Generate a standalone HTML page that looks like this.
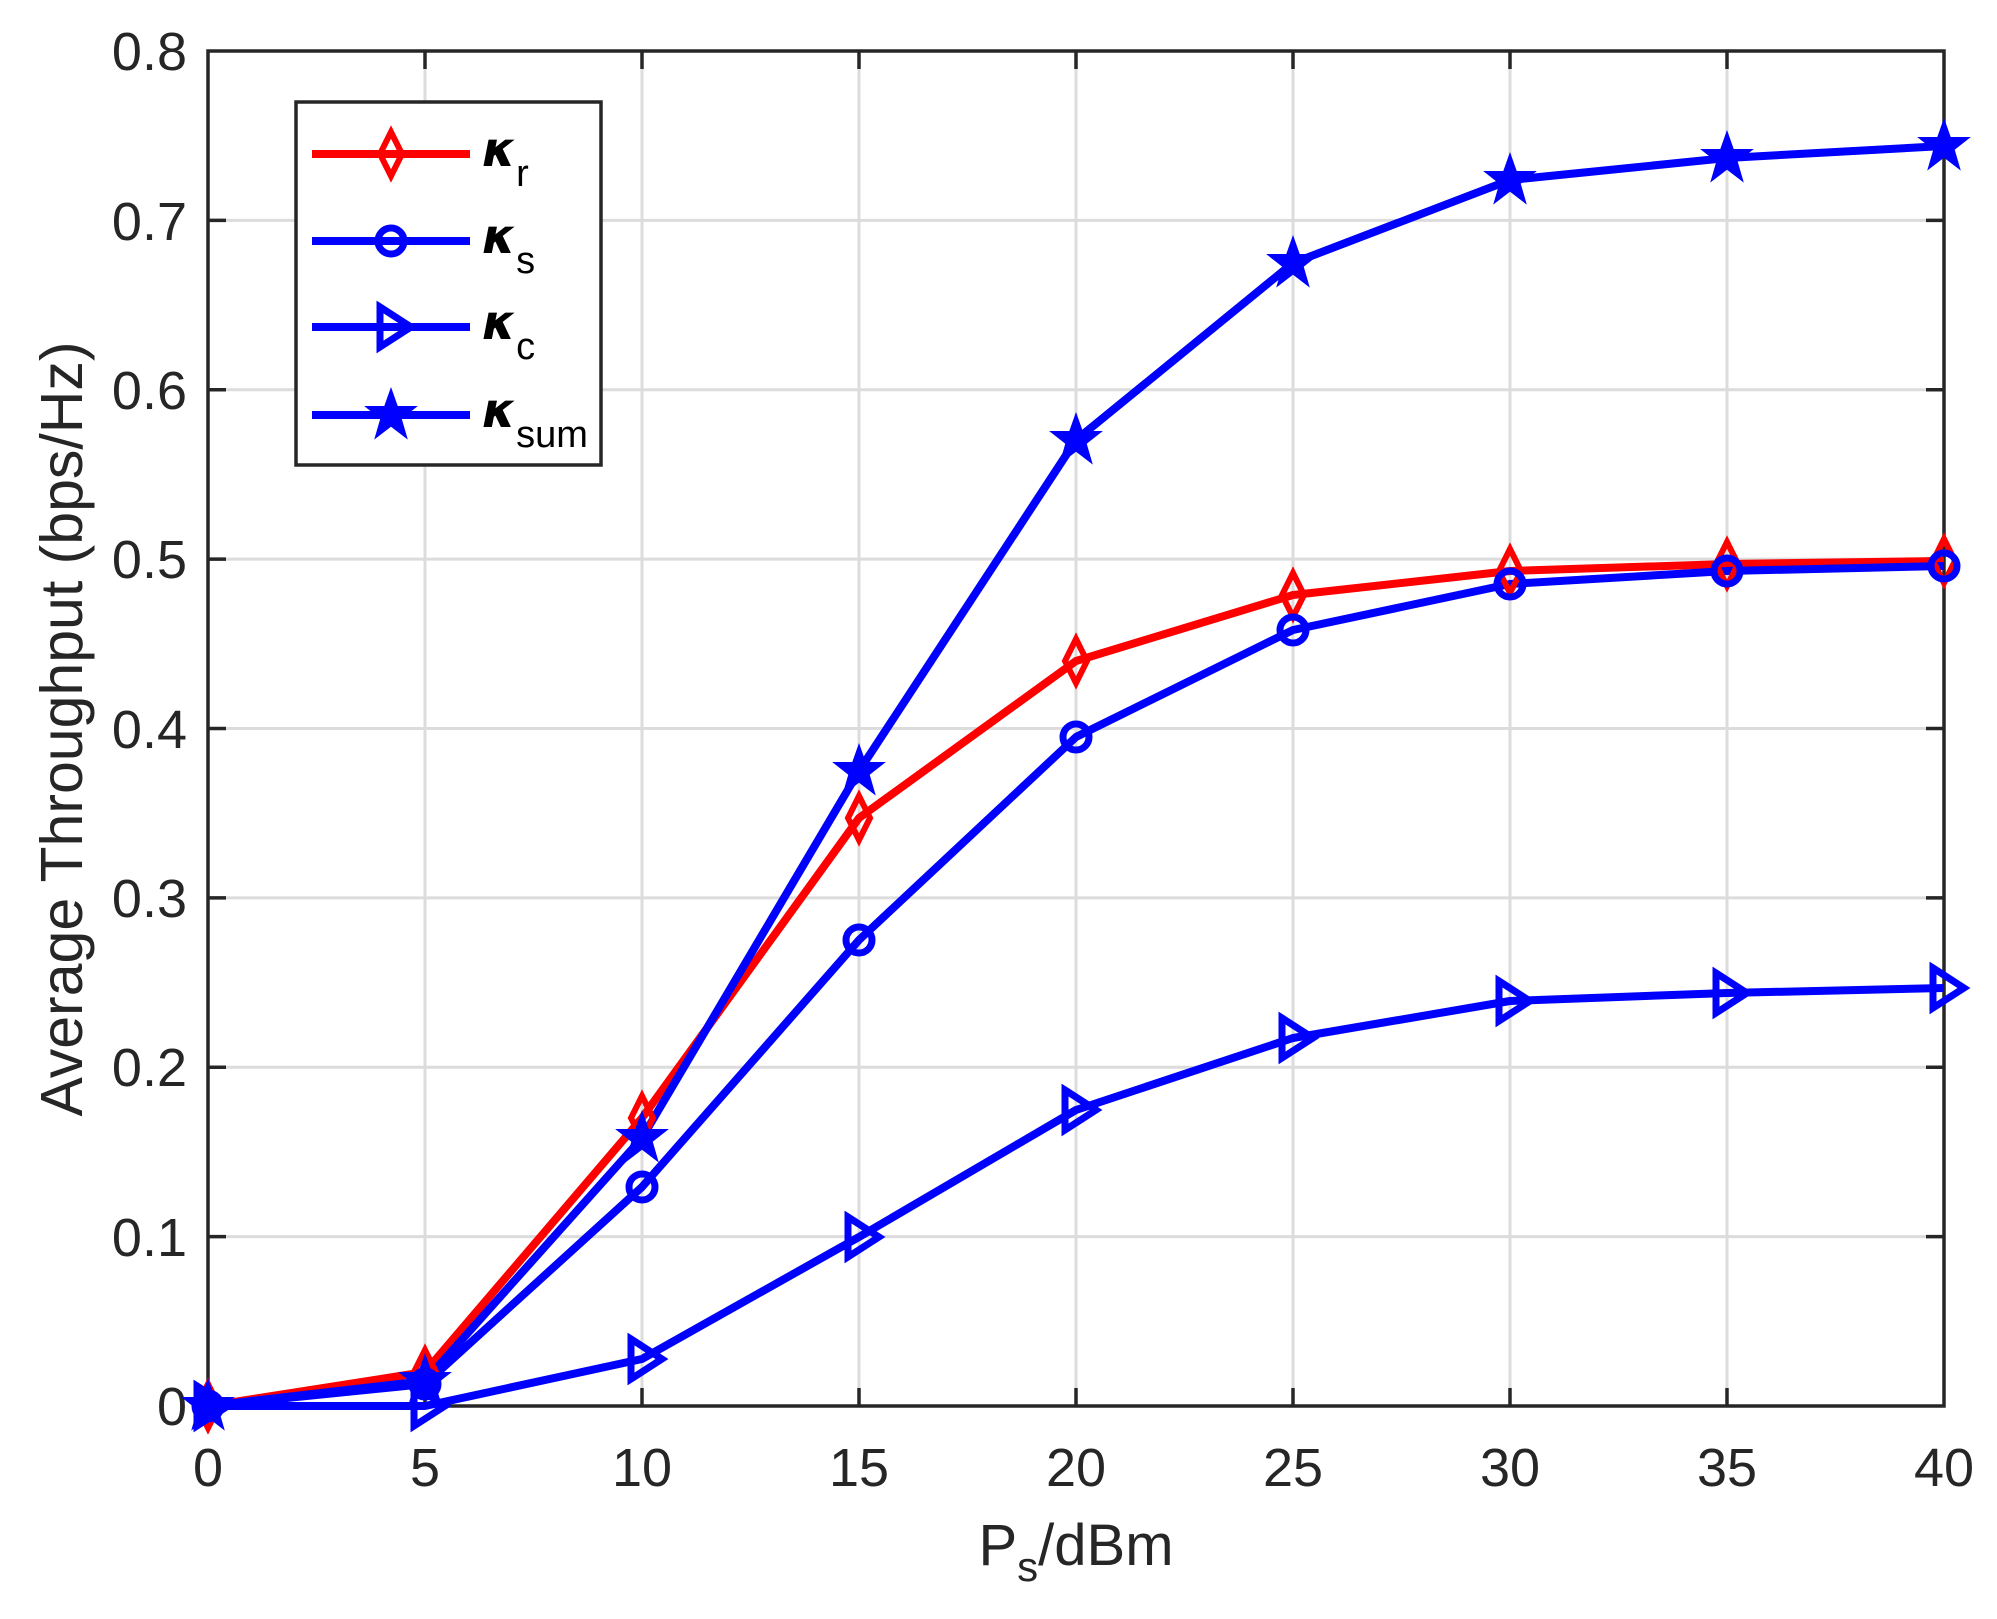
<!DOCTYPE html>
<html><head><meta charset="utf-8"><style>html,body{margin:0;padding:0;background:#fff}</style></head><body>
<svg width="1997" height="1614" viewBox="0 0 1997 1614" xmlns="http://www.w3.org/2000/svg" font-family="Liberation Sans, sans-serif">
<rect width="1997" height="1614" fill="#fff"/>
<g stroke="#dcdcdc" stroke-width="3">
<line x1="425" y1="51" x2="425" y2="1406"/><line x1="642" y1="51" x2="642" y2="1406"/><line x1="859" y1="51" x2="859" y2="1406"/><line x1="1076" y1="51" x2="1076" y2="1406"/><line x1="1293" y1="51" x2="1293" y2="1406"/><line x1="1510" y1="51" x2="1510" y2="1406"/><line x1="1727" y1="51" x2="1727" y2="1406"/>
<line x1="208" y1="220.4" x2="1944" y2="220.4"/><line x1="208" y1="389.8" x2="1944" y2="389.8"/><line x1="208" y1="559.1" x2="1944" y2="559.1"/><line x1="208" y1="728.5" x2="1944" y2="728.5"/><line x1="208" y1="897.9" x2="1944" y2="897.9"/><line x1="208" y1="1067.3" x2="1944" y2="1067.3"/><line x1="208" y1="1236.6" x2="1944" y2="1236.6"/>
</g>
<g stroke="#262626" stroke-width="3.5">
<rect x="208" y="51" width="1736" height="1355" fill="none"/>
<path d="M425 1406v-18M642 1406v-18M859 1406v-18M1076 1406v-18M1293 1406v-18M1510 1406v-18M1727 1406v-18M425 51v18M642 51v18M859 51v18M1076 51v18M1293 51v18M1510 51v18M1727 51v18"/>
<path d="M208 220.4h18M208 389.8h18M208 559.1h18M208 728.5h18M208 897.9h18M208 1067.3h18M208 1236.6h18M1944 220.4h-18M1944 389.8h-18M1944 559.1h-18M1944 728.5h-18M1944 897.9h-18M1944 1067.3h-18M1944 1236.6h-18"/>
</g>
<g fill="#262626" font-size="54" text-anchor="middle">
<text x="208" y="1486">0</text><text x="425" y="1486">5</text><text x="642" y="1486">10</text><text x="859" y="1486">15</text><text x="1076" y="1486">20</text><text x="1293" y="1486">25</text><text x="1510" y="1486">30</text><text x="1727" y="1486">35</text><text x="1944" y="1486">40</text>
</g>
<g fill="#262626" font-size="54" text-anchor="end">
<text x="187" y="1425">0</text><text x="187" y="1256">0.1</text><text x="187" y="1086">0.2</text><text x="187" y="917">0.3</text><text x="187" y="748">0.4</text><text x="187" y="578">0.5</text><text x="187" y="409">0.6</text><text x="187" y="240">0.7</text><text x="187" y="70">0.8</text>
</g>
<text x="0" y="0" transform="translate(82,729) rotate(-90)" font-size="59" fill="#262626" text-anchor="middle">Average Throughput (bps/Hz)</text>
<text x="1076" y="1565" font-size="58" fill="#262626" text-anchor="middle">P<tspan font-size="42" dy="16">s</tspan><tspan dy="-16">/dBm</tspan></text>
<defs>
<path id="dm" d="M0,-22 L11,0 L0,22 L-11,0Z" fill="none" stroke="#f00" stroke-width="6"/>
<circle id="ci" r="13" fill="none" stroke="#00f" stroke-width="7"/>
<path id="tr" d="M-11,-20 L20,0 L-11,20Z" fill="none" stroke="#00f" stroke-width="7"/>
<path id="st" d="M0,-25 L6,-8 L24,-8 L9.6,3.4 L15,22 L0,10.5 L-15,22 L-9.6,3.4 L-24,-8 L-6,-8Z" fill="#00f" stroke="#00f" stroke-width="2"/>
</defs>
<g fill="none" stroke-width="8" stroke-linejoin="round">
<polyline stroke="#f00" points="208,1406 425,1372 642,1118 859,818 1076,661 1293,595 1510,571 1727,564 1944,561"/>
<polyline stroke="#00f" points="208,1406 425,1384 642,1187 859,940 1076,737 1293,630 1510,584 1727,571 1944,566"/>
<polyline stroke="#00f" points="208,1406 425,1406 642,1359 859,1237 1076,1110 1293,1038 1510,1001 1727,993 1944,988"/>
<polyline stroke="#00f" points="208,1406 425,1381 642,1138 859,771 1076,440 1293,263 1510,180 1727,158 1944,146"/>
</g>
<g>
<use href="#dm" x="208" y="1406"/><use href="#dm" x="425" y="1372"/><use href="#dm" x="642" y="1118"/><use href="#dm" x="859" y="818"/><use href="#dm" x="1076" y="661"/><use href="#dm" x="1293" y="595"/><use href="#dm" x="1510" y="571"/><use href="#dm" x="1727" y="564"/><use href="#dm" x="1944" y="561"/>
<use href="#ci" x="208" y="1406"/><use href="#ci" x="425" y="1384"/><use href="#ci" x="642" y="1187"/><use href="#ci" x="859" y="940"/><use href="#ci" x="1076" y="737"/><use href="#ci" x="1293" y="630"/><use href="#ci" x="1510" y="584"/><use href="#ci" x="1727" y="571"/><use href="#ci" x="1944" y="566"/>
<use href="#tr" x="208" y="1406"/><use href="#tr" x="425" y="1406"/><use href="#tr" x="642" y="1359"/><use href="#tr" x="859" y="1237"/><use href="#tr" x="1076" y="1110"/><use href="#tr" x="1293" y="1038"/><use href="#tr" x="1510" y="1001"/><use href="#tr" x="1727" y="993"/><use href="#tr" x="1944" y="988"/>
<use href="#st" x="208" y="1406"/><use href="#st" x="425" y="1381"/><use href="#st" x="642" y="1138"/><use href="#st" x="859" y="771"/><use href="#st" x="1076" y="440"/><use href="#st" x="1293" y="263"/><use href="#st" x="1510" y="180"/><use href="#st" x="1727" y="158"/><use href="#st" x="1944" y="146"/>
</g>
<rect x="296" y="102" width="305" height="363" fill="#fff" stroke="#262626" stroke-width="3.5"/>
<g stroke-width="8">
<line x1="312" y1="154" x2="470" y2="154" stroke="#f00"/>
<line x1="312" y1="241" x2="470" y2="241" stroke="#00f"/>
<line x1="312" y1="327" x2="470" y2="327" stroke="#00f"/>
<line x1="312" y1="415" x2="470" y2="415" stroke="#00f"/>
</g>
<use href="#dm" x="391" y="154"/><use href="#ci" x="391" y="241"/><use href="#tr" x="391" y="327"/><use href="#st" x="391" y="415"/>
<g font-size="48" fill="#000" font-style="italic" font-weight="bold" font-family="DejaVu Sans, sans-serif">
<text x="482" y="166">κ<tspan font-style="normal" font-weight="normal" font-family="Liberation Sans" font-size="38" dy="20">r</tspan></text>
<text x="482" y="253">κ<tspan font-style="normal" font-weight="normal" font-family="Liberation Sans" font-size="38" dy="20">s</tspan></text>
<text x="482" y="339">κ<tspan font-style="normal" font-weight="normal" font-family="Liberation Sans" font-size="38" dy="20">c</tspan></text>
<text x="482" y="427">κ<tspan font-style="normal" font-weight="normal" font-family="Liberation Sans" font-size="38" dy="20">sum</tspan></text>
</g>
</svg>
</body></html>
